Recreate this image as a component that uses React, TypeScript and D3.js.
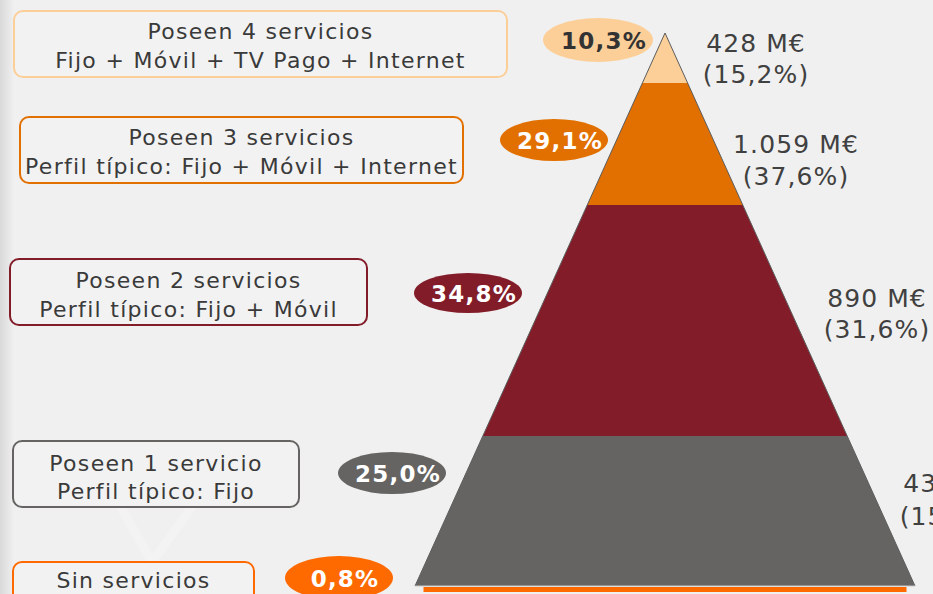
import React from "react";
import { scaleLinear, formatLocale, line } from "d3";

// households by number of services, top of pyramid first
const segments = ["4", "3", "2", "1", "0"];
const titles = [
  "Poseen 4 servicios",
  "Poseen 3 servicios",
  "Poseen 2 servicios",
  "Poseen 1 servicio",
  "Sin servicios",
];
const profiles = [
  "Fijo + Móvil + TV Pago + Internet",
  "Perfil típico: Fijo + Móvil + Internet",
  "Perfil típico: Fijo + Móvil",
  "Perfil típico: Fijo",
  "",
];
const householdShare = [10.3, 29.1, 34.8, 25.0, 0.8];
const revenueM = [428, 1059, 890, 439];
const revenueShare = [15.2, 37.6, 31.6, 15.6];
// band boundaries of the pyramid, as share of its height (apex = 0)
const bandLevels = [0, 0.0904, 0.311, 0.7288, 1];

const colors = ["#fdcf98", "#e27000", "#821c29", "#656462", "#ff6a00"];
const textColors = ["#333333", "#ffffff", "#ffffff", "#ffffff", "#ffffff"];

// layout
const width = 933;
const height = 594;
const cx = 665;
const apexY = 33;
const baseY = 586;
const halfBase = 250;
const boxes = [
  { x: 14, y: 11, w: 493, h: 66, l1: 39, l2: 68 },
  { x: 20, y: 117, w: 443, h: 66, l1: 145, l2: 174 },
  { x: 10, y: 259, w: 357, h: 66, l1: 288, l2: 317 },
  { x: 13, y: 441, w: 286, h: 66, l1: 471, l2: 499 },
  { x: 13, y: 562, w: 241, h: 50, l1: 588, l2: 0 },
];
const bubbles = [
  { x: 598, y: 40, rx: 55, ry: 22 },
  { x: 554, y: 140, rx: 54, ry: 21 },
  { x: 468, y: 293, rx: 54, ry: 20 },
  { x: 392, y: 473, rx: 54, ry: 21 },
  { x: 339, y: 578, rx: 54, ry: 22 },
];
const valueLabels = [
  { x: 756, y1: 52, y2: 83 },
  { x: 796, y1: 153, y2: 185 },
  { x: 877, y1: 307, y2: 338 },
  { x: 953, y1: 492, y2: 525 },
];

const es = formatLocale({
  decimal: ",",
  thousands: ".",
  grouping: [3],
  currency: ["", " M€"],
});
const fmtPct = es.format(".1f");
const fmtM = es.format(",");

const font = "DejaVu Sans, Verdana, sans-serif";

export default function App() {
  const y = scaleLinear().domain([0, 1]).range([apexY, baseY]);
  const half = scaleLinear().domain([0, 1]).range([0, halfBase]);
  const path = line();

  const bands = bandLevels.slice(0, -1).map((t0, i) => {
    const t1 = bandLevels[i + 1];
    return path([
      [cx - half(t0), y(t0)],
      [cx + half(t0), y(t0)],
      [cx + half(t1), y(t1)],
      [cx - half(t1), y(t1)],
    ]) + "Z";
  });

  return (
    <svg
      width={width}
      height={height}
      style={{ position: "absolute", left: 0, top: 0, fontFamily: font }}
    >
      <defs>
        <linearGradient id="edge" x1="0" x2="1" y1="0" y2="0">
          <stop offset="0" stopColor="#d9d9d9" />
          <stop offset="1" stopColor="#f0f0f0" />
        </linearGradient>
      </defs>
      <rect width={width} height={height} fill="#f0f0f0" />
      <rect width={14} height={height} fill="url(#edge)" />
      {/* faint watermark */}
      <g stroke="#ffffff" strokeWidth={9} opacity={0.2} fill="none">
        <path d="M112,492 L152,562 L200,496" />
        <path d="M152,562 L152,594" />
      </g>

      {bands.map((d, i) => (
        <path key={segments[i]} d={d} fill={colors[i]} />
      ))}
      <path
        d={
          path([
            [cx - half(1), y(1)],
            [cx, y(0)],
            [cx + half(1), y(1)],
          ]) ?? ""
        }
        fill="none"
        stroke="#5c5c5c"
        strokeWidth={1}
      />
      <line
        x1={cx - half(1)}
        x2={cx + half(1)}
        y1={y(1)}
        y2={y(1)}
        stroke="#c8c8c8"
        strokeWidth={1}
      />
      <rect
        x={cx - half(0.966)}
        y={y(1) + 1}
        width={half(0.966) * 2}
        height={5}
        fill={colors[4]}
      />

      {boxes.map((b, i) => (
        <g key={"box" + segments[i]}>
          <rect
            x={b.x}
            y={b.y}
            width={b.w}
            height={b.h}
            rx={9}
            fill="#f2f2f2"
            stroke={colors[i]}
            strokeWidth={2}
          />
          <text
            x={b.x + b.w / 2}
            y={b.l1}
            textAnchor="middle"
            fontSize={22}
            fill="#3a3a3a"
            letterSpacing={1.3}
          >
            {titles[i]}
          </text>
          {profiles[i] && (
            <text
              x={b.x + b.w / 2}
              y={b.l2}
              textAnchor="middle"
              fontSize={22}
              fill="#3a3a3a"
              letterSpacing={1.3}
            >
              {profiles[i]}
            </text>
          )}
        </g>
      ))}

      {bubbles.map((b, i) => (
        <g key={"bub" + segments[i]}>
          <ellipse cx={b.x} cy={b.y} rx={b.rx} ry={b.ry} fill={colors[i]} />
          <text
            x={b.x + 6}
            y={b.y + 9}
            textAnchor="middle"
            fontSize={23}
            fontWeight="bold"
            fill={textColors[i]}
            letterSpacing={1.2}
          >
            {fmtPct(householdShare[i]) + "%"}
          </text>
        </g>
      ))}

      {valueLabels.map((v, i) => (
        <g
          key={"val" + segments[i]}
          fill="#404040"
          fontSize={25}
          textAnchor="middle"
          letterSpacing={1.1}
        >
          <text x={v.x} y={v.y1}>{fmtM(revenueM[i]) + " M€"}</text>
          <text x={v.x} y={v.y2}>{"(" + fmtPct(revenueShare[i]) + "%)"}</text>
        </g>
      ))}
    </svg>
  );
}
